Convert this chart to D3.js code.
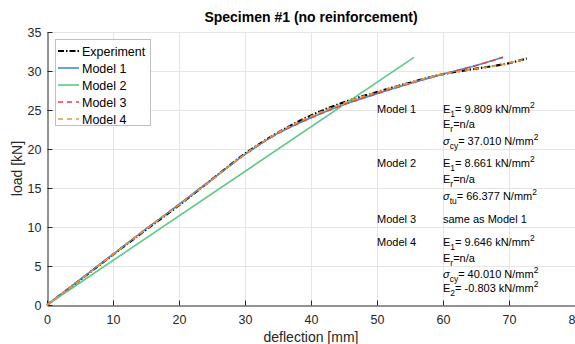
<!DOCTYPE html>
<html>
<head>
<meta charset="utf-8">
<script src="https://cdn.jsdelivr.net/npm/d3@7"></script>
<style>
  body { margin: 0; background: #fff; }
  svg { display: block; font-family: "Liberation Sans", Arial, sans-serif; }
  .grid line { stroke: #e5e5e5; stroke-width: 1; }
  .axis path, .axis line { stroke: #262626; }
  .axis text { fill: #262626; font-size: 12.5px; }
</style>
</head>
<body>
<div id="chart"></div>
<script>
const W = 575, H = 344
const M = { top: 32, right: 0, bottom: 39, left: 47 }

// data (deflection mm, load kN)
const expX = [0, 5, 10, 15, 20, 25, 30, 35, 40, 45, 50, 55, 60, 65, 70, 72.7]
const expY = [0, 3.2, 6.45, 9.65, 12.8, 16.1, 19.4, 22.1, 24.3, 26.0, 27.3, 28.5, 29.6, 30.3, 31.0, 31.6]
const m1X = [0, 5, 10, 15, 20, 25, 30, 35, 40, 45, 50, 55, 60, 65, 69.1]
const m1Y = [0, 3.25, 6.5, 9.75, 12.9, 16.1, 19.3, 22.0, 24.0, 25.7, 27.1, 28.4, 29.6, 30.7, 31.75]
const m2X = [0, 55.6]
const m2Y = [0, 31.75]
const m4X = expX
const m4Y = [0, 3.2, 6.45, 9.7, 12.85, 16.05, 19.35, 22.1, 24.2, 25.9, 27.3, 28.5, 29.6, 30.3, 31.0, 31.6]

const xTicks = [0, 10, 20, 30, 40, 50, 60, 70, 80]
const yTicks = [0, 5, 10, 15, 20, 25, 30, 35]

const series = [
  { name: 'Experiment', xs: expX, ys: expY, color: '#000000', dash: '6,2,1.5,2', width: 2.2 },
  { name: 'Model 1', xs: m1X, ys: m1Y, color: '#4a8ad0', dash: null, width: 1.6 },
  { name: 'Model 2', xs: m2X, ys: m2Y, color: '#5cc987', dash: null, width: 1.6 },
  { name: 'Model 3', xs: m1X, ys: m1Y, color: '#e8433a', dash: '5,4', width: 1.6 },
  { name: 'Model 4', xs: m4X, ys: m4Y, color: '#e6973e', dash: '5,4', width: 1.6 }
]

// annotation text: [main, sub, rest, sup]
const notes = [
  { label: 'Model 1', lines: [['E', '1', '= 9.809 kN/mm', '2'], ['E', 'r', '=n/a', ''], ['σ', 'cy', '= 37.010 N/mm', '2']] },
  { label: 'Model 2', lines: [['E', '1', '= 8.661 kN/mm', '2'], ['E', 'r', '=n/a', ''], ['σ', 'tu', '= 66.377 N/mm', '2']] },
  { label: 'Model 3', lines: [['same as Model 1', '', '', '']] },
  { label: 'Model 4', lines: [['E', '1', '= 9.646 kN/mm', '2'], ['E', 'r', '=n/a', ''], ['σ', 'cy', '= 40.010 N/mm', '2'], ['E', '2', '= -0.803 kN/mm', '2']] }
]
const noteBaselines = [[113, 128, 145], [167, 183, 200], [223], [246, 262, 278, 292]]

const svg = d3.select('#chart').append('svg')
  .attr('width', W).attr('height', H)

const x = d3.scaleLinear().domain([0, 80]).range([M.left, W - M.right])
const y = d3.scaleLinear().domain([0, 35]).range([H - M.bottom, M.top])

// grid
svg.append('g').attr('class', 'grid')
  .selectAll('line.v').data(xTicks.slice(1)).enter().append('line')
    .attr('x1', d => x(d) + 0.5).attr('x2', d => x(d) + 0.5)
    .attr('y1', y(0)).attr('y2', y(35))
svg.select('.grid')
  .selectAll('line.h').data(yTicks.slice(1)).enter().append('line')
    .attr('y1', d => Math.round(y(d)) + 0.5).attr('y2', d => Math.round(y(d)) + 0.5)
    .attr('x1', x(0)).attr('x2', x(80))

// axes (ticks inside)
const xAxis = svg.append('g').attr('class', 'axis')
  .attr('transform', 'translate(0,' + (Math.round(y(0)) + 0.5) + ')')
  .call(d3.axisBottom(x).tickValues(xTicks).tickSizeInner(-5).tickSizeOuter(0).tickPadding(10))
xAxis.selectAll('text').attr('dy', '0.71em')

const yAxis = svg.append('g').attr('class', 'axis')
  .attr('transform', 'translate(' + (x(0) + 0.5) + ',0)')
  .call(d3.axisLeft(y).tickValues(yTicks).tickSizeInner(-5).tickSizeOuter(0).tickPadding(6))

// lines
const line = d3.line().x(d => x(d[0])).y(d => y(d[1])).curve(d3.curveMonotoneX)
svg.append('g').selectAll('path.series')
  .data(series).enter().append('path')
    .attr('class', 'series')
    .attr('fill', 'none')
    .attr('stroke', d => d.color)
    .attr('stroke-width', d => d.width)
    .attr('stroke-dasharray', d => d.dash)
    .attr('d', d => line(d.xs.map((v, i) => [v, d.ys[i]])))

// title + axis labels
svg.append('text')
  .attr('x', (x(0) + x(80)) / 2).attr('y', 22)
  .attr('text-anchor', 'middle')
  .attr('font-weight', 'bold').attr('font-size', 14).attr('fill', '#000')
  .text('Specimen #1 (no reinforcement)')

svg.append('text')
  .attr('x', (x(0) + x(80)) / 2).attr('y', 342)
  .attr('text-anchor', 'middle')
  .attr('font-size', 14).attr('fill', '#262626')
  .text('deflection [mm]')

svg.append('text')
  .attr('transform', 'translate(22,' + (y(17.5)) + ') rotate(-90)')
  .attr('text-anchor', 'middle')
  .attr('font-size', 14).attr('fill', '#262626')
  .text('load [kN]')

// legend
const leg = svg.append('g').attr('transform', 'translate(55,39)')
leg.append('rect')
  .attr('x', 0.5).attr('y', 0.5).attr('width', 95).attr('height', 86)
  .attr('fill', '#fff').attr('stroke', '#bfbfbf')
const item = leg.selectAll('g.item').data(series).enter().append('g')
  .attr('transform', (d, i) => 'translate(0,' + (12 + i * 17) + ')')
item.append('line')
  .attr('x1', 3).attr('x2', 24)
  .attr('stroke', d => d.color)
  .attr('stroke-width', d => d.width)
  .attr('stroke-dasharray', d => d.dash)
item.append('text')
  .attr('x', 27).attr('dy', '0.36em')
  .attr('font-size', 12.5).attr('fill', '#000')
  .text(d => d.name)

// annotations
const ann = svg.append('g').attr('font-size', 11).attr('fill', '#000')
notes.forEach((n, k) => {
  const bl = noteBaselines[k]
  ann.append('text').attr('x', 377).attr('y', bl[0]).text(n.label)
  n.lines.forEach((l, j) => {
    const t = ann.append('text').attr('x', 443).attr('y', bl[j])
    const s = t.append('tspan').text(l[0])
    if (l[0] === 'σ') s.attr('font-style', 'italic')
    if (l[1]) t.append('tspan').attr('dy', 4).attr('font-size', 8.5).text(l[1])
    if (l[2]) t.append('tspan').attr('dy', l[1] ? -4 : 0).text(l[2])
    if (l[3]) t.append('tspan').attr('dy', -5).attr('font-size', 8.5).text(l[3])
  })
})
</script>
</body>
</html>
